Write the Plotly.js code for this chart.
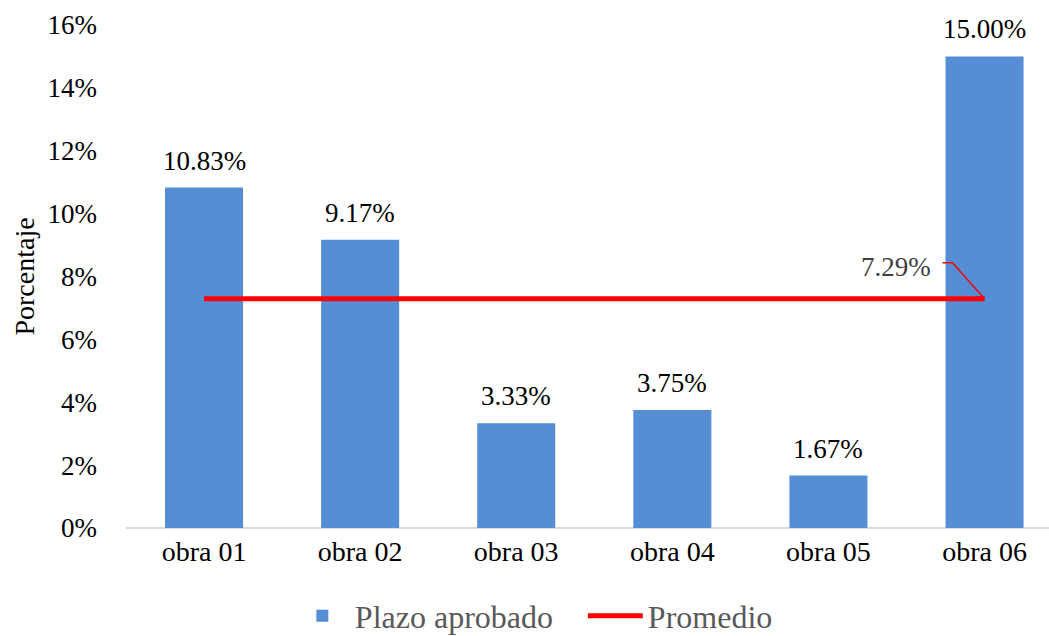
<!DOCTYPE html>
<html>
<head>
<meta charset="utf-8">
<script src="https://cdn.plot.ly/plotly-3.0.1.min.js"></script>
<style>html,body{margin:0;padding:0;background:#fff;}#chart{width:1049px;height:636px;}</style>
</head>
<body>
<div id="chart"></div>
<script>
const categories = ["obra 01", "obra 02", "obra 03", "obra 04", "obra 05", "obra 06"];
const plazoAprobado = [10.83, 9.17, 3.33, 3.75, 1.67, 15.00];
const promedio = [7.29, 7.29, 7.29, 7.29, 7.29, 7.29];
const promedioLabel = "7.29%";
const yTickVals = [0, 2, 4, 6, 8, 10, 12, 14, 16];
const yTickText = ["0%", "2%", "4%", "6%", "8%", "10%", "12%", "14%", "16%"];

const FONT = "'Liberation Serif'";

const traces = [
  {
    type: "bar",
    name: "Plazo aprobado",
    x: categories,
    y: plazoAprobado,
    marker: { color: "#558ED5" },
    hoverinfo: "none"
  },
  {
    type: "scatter",
    mode: "lines",
    name: "Promedio",
    x: categories,
    y: promedio,
    line: { color: "#FF0000", width: 5 },
    hoverinfo: "none"
  }
];

const annotations = categories.map((c, i) => ({
  x: c, y: plazoAprobado[i], xref: "x", yref: "y",
  text: plazoAprobado[i].toFixed(2) + "%",
  showarrow: false, yanchor: "bottom", yshift: 10,
  font: { family: FONT, size: 27, color: "#000000" }
}));
const lastIdx = categories.length - 1;
annotations.push({
  x: categories[lastIdx], y: promedio[lastIdx], xref: "x", yref: "y",
  text: promedioLabel, showarrow: false,
  xanchor: "right", yanchor: "middle", xshift: -52, yshift: 32,
  font: { family: FONT, size: 27, color: "#404040" }
});

const layout = {
  width: 1049, height: 636,
  margin: { l: 126, r: 0, t: 25, b: 108, autoexpand: false },
  paper_bgcolor: "#ffffff", plot_bgcolor: "#ffffff",
  bargap: 0.5,
  showlegend: true,
  font: { family: FONT, size: 27, color: "#000000" },
  xaxis: {
    type: "category",
    range: [-0.5, 5.413],
    showgrid: false, zeroline: false,
    showline: false, ticks: "",
    ticklabelstandoff: 4,
    tickfont: { family: FONT, size: 28, color: "#000000" },
    fixedrange: true
  },
  yaxis: {
    range: [0, 16],
    tickvals: yTickVals, ticktext: yTickText,
    showgrid: false, zeroline: true, zerolinecolor: "#D9D9D9", zerolinewidth: 1.5,
    showline: false, ticks: "",
    ticklabelstandoff: 28,
    tickfont: { family: FONT, size: 27, color: "#000000" },
    title: { text: "Porcentaje", font: { family: FONT, size: 28, color: "#000000" }, standoff: 4 },
    fixedrange: true
  },
  legend: {
    orientation: "h",
    x: 0.1775, xanchor: "left",
    y: -0.175, yanchor: "middle",
    entrywidth: 223,
    itemwidth: 55,
    font: { family: FONT, size: 32, color: "#595959" },
    bgcolor: "rgba(0,0,0,0)"
  },
  annotations: annotations,
  shapes: [
    {
      type: "path", xref: "x", yref: "y",
      xsizemode: "pixel", ysizemode: "pixel",
      xanchor: categories[lastIdx], yanchor: promedio[lastIdx],
      path: "M 0,0 L -32,36 L -42,36",
      line: { color: "#FF0000", width: 1.5 }
    }
  ]
};

Plotly.newPlot("chart", traces, layout, { displayModeBar: false, staticPlot: true });
</script>
</body>
</html>
